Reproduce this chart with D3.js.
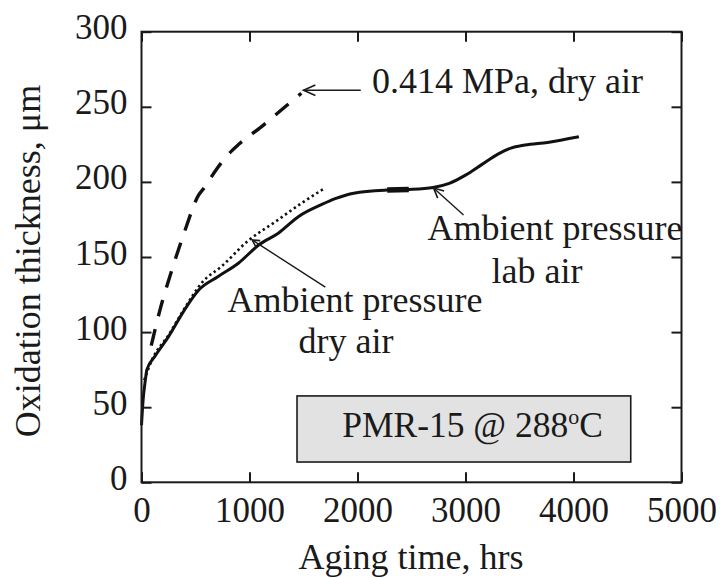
<!DOCTYPE html>
<html>
<head>
<meta charset="utf-8">
<script src="https://cdn.jsdelivr.net/npm/d3@7"></script>
<style>
  html, body { margin: 0; padding: 0; background: #fff; }
  svg { display: block; }
  text { font-family: "Liberation Serif", "Times New Roman", serif; fill: #1a1a1a; }
</style>
</head>
<body>
<svg id="chart" width="720" height="578"></svg>
<script>
// Oxidation layer growth of PMR-15 aged at 288 °C
const xTicks = [0, 1000, 2000, 3000, 4000, 5000];
const yTicks = [0, 50, 100, 150, 200, 250, 300];

// 0.414 MPa, dry air (dashed)
const pressHours = [90, 172, 280, 404, 527, 580, 690, 840, 900, 1115, 1330, 1480];
const pressThick = [91, 115, 141, 168, 191, 196, 208, 221, 225, 237, 250, 259];

// Ambient pressure, dry air (dotted)
const dryHours = [25, 100, 250, 400, 560, 745, 990, 1240, 1485, 1700];
const dryThick = [68, 82, 98, 116, 133, 144, 161, 173.5, 186, 196];

// Ambient pressure, lab air (solid)
const labHours = [0, 15, 32, 50, 125, 250, 400, 530, 710, 900, 1085, 1270, 1455, 1670, 1800, 1965, 2275, 2475, 2700, 2850, 3000, 3150, 3300, 3420, 3550, 3760, 4050];
const labThick = [38, 55, 66, 75, 84, 97, 115, 128, 137, 146, 158, 166, 177, 185, 189, 192.5, 194.6, 195, 196.3, 199, 204.5, 211.5, 218.5, 222.5, 224.5, 226.3, 230];

// short stretch of the lab-air trace where two runs overlap
const overlapHours = [2275, 2475];
const overlapThick = [194.6, 195];

const FONT = "'Liberation Serif', 'Times New Roman', serif";
const svg = d3.select("#chart");

const x = d3.scaleLinear().domain([0, 5000]).range([141.5, 681.5]);
const y = d3.scaleLinear().domain([0, 300]).range([482.3, 31.7]);

const zip = (xs, ys) => xs.map((v, i) => [v, ys[i]]);
const line = d3.line().x(d => x(d[0])).y(d => y(d[1])).curve(d3.curveMonotoneX);

function label(px, py, str, size, anchor) {
  return svg.append("text")
    .attr("x", px).attr("y", py)
    .attr("text-anchor", anchor || "start")
    .style("font-family", FONT).style("font-size", size + "px")
    .text(str);
}

// annotation box (behind the curves)
svg.append("rect")
  .attr("x", x(1440)).attr("y", y(57.5))
  .attr("width", x(4530) - x(1440)).attr("height", y(13.5) - y(57.5))
  .attr("fill", "#e2e2e2").attr("stroke", "#1a1a1a").attr("stroke-width", 1.6);

const boxText = label(x(3065), y(30.2), null, 35.5, "middle");
boxText.append("tspan").text("PMR-15 @ 288");
boxText.append("tspan").text("o").style("font-size", "22px").attr("dy", "-13");
boxText.append("tspan").text("C").attr("dy", "13");

// curves
svg.append("path").datum(zip(labHours, labThick))
  .attr("d", line).attr("fill", "none")
  .attr("stroke", "#111").attr("stroke-width", 3);

svg.append("path").datum(zip(overlapHours, overlapThick))
  .attr("d", line).attr("fill", "none")
  .attr("stroke", "#111").attr("stroke-width", 5.5);

svg.append("path").datum(zip(dryHours, dryThick))
  .attr("d", line).attr("fill", "none")
  .attr("stroke", "#111").attr("stroke-width", 2.6)
  .attr("stroke-dasharray", "2.4,3");

svg.append("path").datum(zip(pressHours, pressThick))
  .attr("d", line).attr("fill", "none")
  .attr("stroke", "#111").attr("stroke-width", 3.4)
  .attr("stroke-dasharray", "17,13");

// axes: frame with inward ticks on all four sides
const tickLen = 10;
const gx = svg.append("g").attr("transform", `translate(0,${y(0)})`)
  .call(d3.axisBottom(x).tickValues(xTicks).tickSize(-tickLen).tickPadding(15).tickFormat(d3.format("d")));
const gxTop = svg.append("g").attr("transform", `translate(0,${y(300)})`)
  .call(d3.axisTop(x).tickValues(xTicks).tickSize(-tickLen).tickFormat(""));
const gy = svg.append("g").attr("transform", `translate(${x(0)},0)`)
  .call(d3.axisLeft(y).tickValues(yTicks).tickSize(-tickLen).tickPadding(14).tickFormat(d3.format("d")));
const gyRight = svg.append("g").attr("transform", `translate(${x(5000)},0)`)
  .call(d3.axisRight(y).tickValues(yTicks).tickSize(-tickLen).tickFormat(""));

[gx, gxTop, gy, gyRight].forEach(g => {
  g.attr("font-family", null).attr("font-size", null);
  g.select(".domain").remove();
  g.selectAll(".tick line").attr("stroke", "#1a1a1a").attr("stroke-width", 2);
  g.selectAll("text").style("font-size", "35px").attr("fill", "#1a1a1a")
    .style("font-family", FONT);
});
gy.selectAll("text").attr("dy", "0.2em");

svg.append("rect")
  .attr("x", x(0)).attr("y", y(300))
  .attr("width", x(5000) - x(0)).attr("height", y(0) - y(300))
  .attr("fill", "none").attr("stroke", "#1a1a1a").attr("stroke-width", 2);

// axis titles
label((x(0) + x(5000)) / 2 - 0.5, 569, "Aging time, hrs", 36, "middle");

svg.append("text")
  .attr("transform", `translate(40,${(y(0) + y(300)) / 2 + 4}) rotate(-90)`)
  .attr("text-anchor", "middle")
  .style("font-family", FONT).style("font-size", "36px")
  .text("Oxidation thickness, \u03bcm");

// annotation arrows
function arrow(x1, y1, x2, y2, head, spread) {
  const ang = Math.atan2(y2 - y1, x2 - x1);
  const g = svg.append("g").attr("stroke", "#1a1a1a").attr("fill", "none");
  g.append("line").attr("x1", x1).attr("y1", y1).attr("x2", x2).attr("y2", y2)
    .attr("stroke-width", 1.4);
  const p = a => [x2 - head * Math.cos(ang + a), y2 - head * Math.sin(ang + a)];
  const [a1, a2] = [p(spread), p(-spread)];
  g.append("path").attr("d", `M${a1[0]},${a1[1]}L${x2},${y2}L${a2[0]},${a2[1]}`)
    .attr("stroke-width", 1.6);
}

arrow(x(2030), y(261), x(1500), y(261), 13, 0.42);
arrow(x(2982), y(178), x(2704), y(196), 11, 0.45);
arrow(x(1702), y(130), x(1025), y(161.3), 8, 0.5);

// annotation labels
label(372, 93, "0.414 MPa, dry air", 36);
label(555, 240, "Ambient pressure", 36, "middle");
label(537, 283, "lab air", 36, "middle");
label(355, 312, "Ambient pressure", 36, "middle");
label(346, 353, "dry air", 36, "middle");
</script>
</body>
</html>
